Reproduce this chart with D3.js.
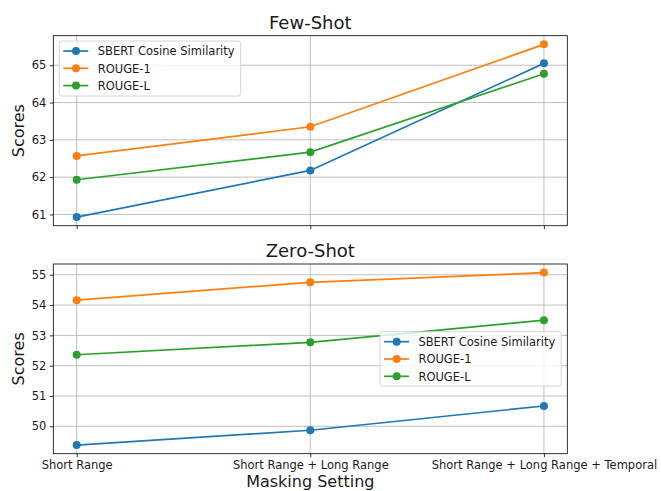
<!DOCTYPE html>
<html>
<head>
<meta charset="utf-8">
<script src="https://cdn.jsdelivr.net/npm/d3@7"></script>
<style>
  html, body { margin: 0; padding: 0; background: #fff; }
  svg { display: block; font-family: "DejaVu Sans", sans-serif; }
</style>
</head>
<body>
<svg id="chart" width="661" height="491"></svg>
<script>
// ---- data ----
const categories = ["Short Range", "Short Range + Long Range", "Short Range + Long Range + Temporal"];
const seriesNames = ["SBERT Cosine Similarity", "ROUGE-1", "ROUGE-L"];
const seriesColors = ["#1f77b4", "#ff7f0e", "#2ca02c"];

const fewShotSBERT = [60.93, 62.18, 65.05];
const fewShotRouge1 = [62.57, 63.35, 65.56];
const fewShotRougeL = [61.93, 62.67, 64.77];

const zeroShotSBERT = [49.38, 49.87, 50.67];
const zeroShotRouge1 = [54.16, 54.75, 55.07];
const zeroShotRougeL = [52.36, 52.77, 53.50];

const fewShotTicks = [61, 62, 63, 64, 65];
const zeroShotTicks = [50, 51, 52, 53, 54, 55];

const panels = [
  { title: "Few-Shot", series: [fewShotSBERT, fewShotRouge1, fewShotRougeL], ticks: fewShotTicks,
    top: 35.7, bottom: 225.7, showXLabels: false, titleY: 29,
    legend: { x: 59.3, y: 41, w: 181.4, h: 55 } },
  { title: "Zero-Shot", series: [zeroShotSBERT, zeroShotRouge1, zeroShotRougeL], ticks: zeroShotTicks,
    top: 264, bottom: 453.7, showXLabels: true, titleY: 257,
    legend: { x: 380, y: 331.7, w: 181.3, h: 54.3 } }
];

const svg = d3.select("#chart");
const left = 53.3, right = 567.3;
const textColor = "#1a1a1a";

const x = d3.scaleLinear().domain([-0.1, 2.1]).range([left, right]);

panels.forEach(p => {
  const all = p.series.flat();
  const mn = d3.min(all), mx = d3.max(all);
  const pad = (mx - mn) * 0.05;
  const y = d3.scaleLinear().domain([mn - pad, mx + pad]).range([p.bottom, p.top]);
  const g = svg.append("g");

  // grid
  g.append("g").selectAll("line.h").data(p.ticks).join("line")
    .attr("x1", left).attr("x2", right)
    .attr("y1", d => y(d)).attr("y2", d => y(d))
    .attr("stroke", "#b0b0b0").attr("stroke-width", 0.8);
  g.append("g").selectAll("line.v").data(categories).join("line")
    .attr("x1", (d, i) => x(i)).attr("x2", (d, i) => x(i))
    .attr("y1", p.top).attr("y2", p.bottom)
    .attr("stroke", "#b0b0b0").attr("stroke-width", 0.8);

  // y axis
  const yAxis = d3.axisLeft(y).tickValues(p.ticks).tickSize(3.5).tickPadding(3.5).tickFormat(d3.format("d"));
  const ya = g.append("g").attr("transform", `translate(${left},0)`).call(yAxis);
  ya.select(".domain").remove();
  ya.selectAll("text").attr("font-size", 11.5).attr("fill", textColor).attr("font-family", "DejaVu Sans");
  ya.selectAll("line").attr("stroke", "#000").attr("stroke-width", 0.8);

  // x axis
  const xAxis = d3.axisBottom(x).tickValues([0, 1, 2]).tickSize(3.5).tickPadding(3.5)
    .tickFormat(p.showXLabels ? (d => categories[d]) : (() => ""));
  const xa = g.append("g").attr("transform", `translate(0,${p.bottom})`).call(xAxis);
  xa.select(".domain").remove();
  xa.selectAll("text").attr("font-size", 11.5).attr("fill", textColor).attr("font-family", "DejaVu Sans");
  xa.selectAll("line").attr("stroke", "#000").attr("stroke-width", 0.8);

  // lines + markers
  const line = d3.line().x((d, i) => x(i)).y(d => y(d));
  p.series.forEach((s, si) => {
    g.append("path").datum(s).attr("d", line).attr("fill", "none")
      .attr("stroke", seriesColors[si]).attr("stroke-width", 1.7);
    g.append("g").selectAll("circle").data(s).join("circle")
      .attr("cx", (d, i) => x(i)).attr("cy", d => y(d)).attr("r", 4)
      .attr("fill", seriesColors[si]);
  });

  // spines
  g.append("rect").attr("x", left).attr("y", p.top).attr("width", right - left).attr("height", p.bottom - p.top)
    .attr("fill", "none").attr("stroke", "#000").attr("stroke-width", 0.8);

  // title
  g.append("text").attr("x", (left + right) / 2).attr("y", p.titleY).attr("text-anchor", "middle")
    .attr("font-size", 18).attr("fill", textColor).text(p.title);

  // y label
  g.append("text").attr("transform", `translate(24,${(p.top + p.bottom) / 2}) rotate(-90)`)
    .attr("text-anchor", "middle").attr("font-size", 16).attr("fill", textColor).text("Scores");

  // legend
  const L = p.legend;
  const lg = g.append("g");
  lg.append("rect").attr("x", L.x).attr("y", L.y).attr("width", L.w).attr("height", L.h)
    .attr("rx", 2.5).attr("fill", "#fff").attr("fill-opacity", 0.8)
    .attr("stroke", "#cccccc").attr("stroke-width", 0.8);
  seriesNames.forEach((n, i) => {
    const ry = L.y + 10 + i * 17.3;
    lg.append("line").attr("x1", L.x + 4).attr("x2", L.x + 29).attr("y1", ry).attr("y2", ry)
      .attr("stroke", seriesColors[i]).attr("stroke-width", 1.7);
    lg.append("circle").attr("cx", L.x + 16.7).attr("cy", ry).attr("r", 4).attr("fill", seriesColors[i]);
    lg.append("text").attr("x", L.x + 38.4).attr("y", ry + 4.2).attr("font-size", 11.5)
      .attr("fill", textColor).text(n);
  });
});

// x label
svg.append("text").attr("x", (left + right) / 2).attr("y", 487).attr("text-anchor", "middle")
  .attr("font-size", 16).attr("fill", textColor).text("Masking Setting");
</script>
</body>
</html>
